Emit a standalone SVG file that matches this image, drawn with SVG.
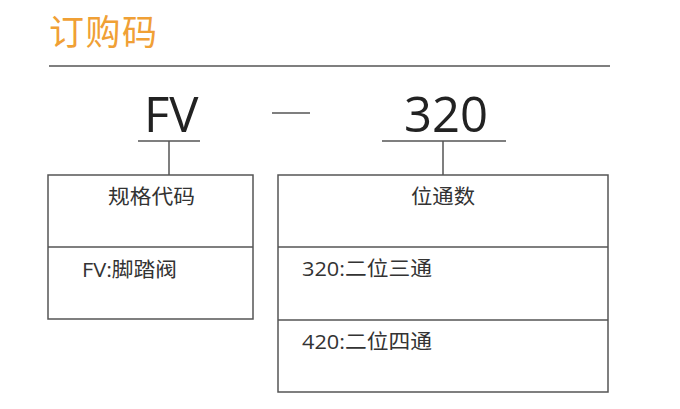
<svg xmlns="http://www.w3.org/2000/svg" width="680" height="409" viewBox="0 0 680 409">
<style>
.ln{stroke:#555;stroke-width:1.5;fill:none}
.bx{stroke:#555;stroke-width:1.5;fill:#fff}
.big{font-family:"Open Sans","Noto Sans CJK SC",sans-serif;font-size:49px;fill:#222}
.t{font-family:"Open Sans","Noto Sans CJK SC",sans-serif;font-size:20px;fill:#333}
</style>
<rect width="680" height="409" fill="#fff"/>
<text x="49" y="45" font-family="'Noto Sans CJK SC',sans-serif" font-size="35" fill="#F0A035" textLength="108">订购码</text>
<line class="ln" x1="49" y1="66" x2="610" y2="66" stroke="#777"/>
<text class="big" x="144" y="132">FV</text>
<text class="big" x="404" y="132">320</text>
<g id="connectors">
<line class="ln" x1="272" y1="113" x2="310" y2="113"/>
<line class="ln" x1="138" y1="141" x2="200" y2="141"/>
<line class="ln" x1="169" y1="141" x2="169" y2="175"/>
<line class="ln" x1="382" y1="141" x2="506" y2="141"/>
<line class="ln" x1="443" y1="141" x2="443" y2="175"/>
</g>
<g id="spec">
<rect class="bx" x="48" y="175" width="205" height="144"/>
<line class="ln" x1="48" y1="247" x2="253" y2="247"/>
<text class="t" x="108" y="204" textLength="87" lengthAdjust="spacingAndGlyphs">规格代码</text>
<text class="t" x="82" y="277" textLength="95" lengthAdjust="spacingAndGlyphs">FV:脚踏阀</text>
</g>
<g id="ports">
<rect class="bx" x="278" y="175" width="330" height="217"/>
<line class="ln" x1="278" y1="247" x2="608" y2="247"/>
<line class="ln" x1="278" y1="320" x2="608" y2="320"/>
<text class="t" x="411" y="204" textLength="64" lengthAdjust="spacingAndGlyphs">位通数</text>
<text class="t" x="302" y="276" textLength="130" lengthAdjust="spacingAndGlyphs">320:二位三通</text>
<text class="t" x="302" y="349" textLength="130" lengthAdjust="spacingAndGlyphs">420:二位四通</text>
</g>
</svg>
